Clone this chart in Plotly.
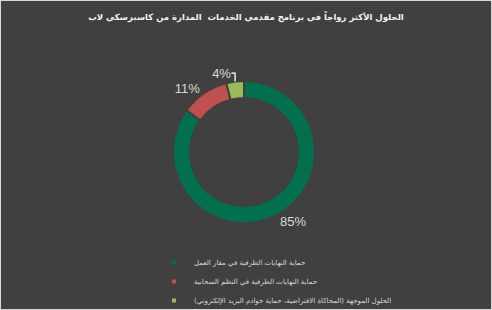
import plotly.graph_objects as go

title = "الحلول الأكثر رواجاً في برنامج مقدمي الخدمات  المدارة من كاسبرسكي لاب"
labels = [
    "حماية النهايات الطرفية في مقار العمل",
    "حماية النهايات الطرفية في النظم السحابية",
    "الحلول الموجهة (المحاكاة الافتراضية، حماية خوادم البريد الإلكتروني)",
]
values = [85, 11, 4]
colors = ["#00704F", "#C0504D", "#9BBB59"]

W, H = 492, 310
BG = "#404040"
cx, cy, r = 244, 152, 71

fig = go.Figure()
fig.add_trace(go.Pie(
    labels=labels, values=values, hole=0.76, sort=False, direction="clockwise",
    rotation=0, marker=dict(colors=colors, line=dict(color=BG, width=2)),
    textposition="outside", texttemplate="%{value}%", textfont=dict(color="#D9D9D9", size=13, family="Liberation Sans, Arial"),
    showlegend=False, hoverinfo="skip",
    domain=dict(x=[(cx - r) / W, (cx + r) / W], y=[(H - cy - r) / H, (H - cy + r) / H]),
))
for i, (lab, col) in enumerate(zip(labels, colors)):
    fig.add_trace(go.Scatter(x=[None], y=[None], mode="markers", name=lab,
                             marker=dict(symbol="square", size=4, color=col),
                             legendgroup=str(i), showlegend=True))

fig.update_layout(
    width=W, height=H, margin=dict(l=0, r=0, t=0, b=0, autoexpand=False),
    paper_bgcolor=BG, plot_bgcolor=BG,
    title=dict(text="<b>" + title + "</b>", x=0.5, xanchor="center", y=1 - 17 / H, yanchor="middle",
               font=dict(size=8.5, color="#F2F2F2", family="DejaVu Sans, Arial")),
    xaxis=dict(visible=False), yaxis=dict(visible=False),
    legend=dict(x=154 / W, y=1 - 248 / H, xanchor="left", yanchor="top", bgcolor="rgba(0,0,0,0)",
                font=dict(size=7, color="#D9D9D9", family="DejaVu Sans, Arial"),
                traceorder="grouped", tracegroupgap=0, itemwidth=30),
    shapes=[dict(type="rect", xref="paper", yref="paper", x0=0, y0=0, x1=1, y1=1,
                 line=dict(color="#D9D9D9", width=2), fillcolor="rgba(0,0,0,0)")],
)
fig.write_html("out.html")
